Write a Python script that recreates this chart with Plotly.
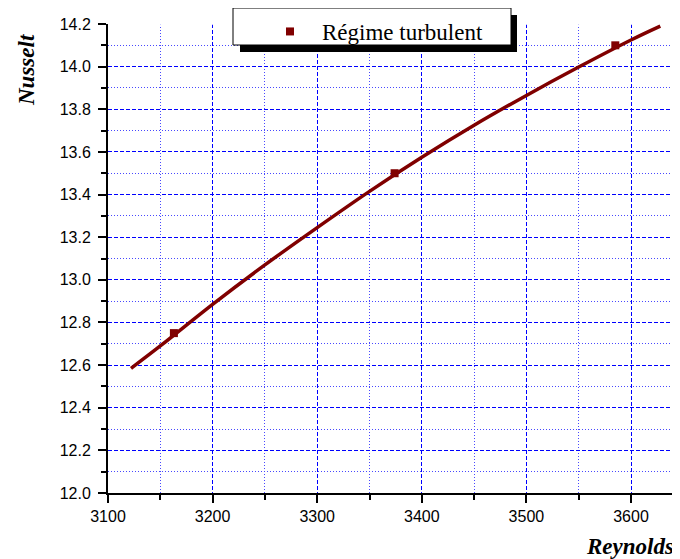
import plotly.graph_objects as go

# Data
reynolds_pts = [3163, 3374, 3585]
nusselt_pts = [12.75, 13.50, 14.10]

fit_re = [3122, 3150, 3200, 3250, 3300, 3350, 3400, 3450, 3500, 3550, 3600, 3628]
fit_nu = [12.585, 12.69, 12.885, 13.07, 13.245, 13.415, 13.575, 13.725, 13.865, 13.998, 14.125, 14.19]

x_minor_ticks = [3150, 3250, 3350, 3450, 3550, 3650]
y_minor_ticks = [12.1, 12.3, 12.5, 12.7, 12.9, 13.1, 13.3, 13.5, 13.7, 13.9, 14.1]

series_name = "Régime turbulent"
x_title = "Reynolds"
y_title = "Nusselt"

# The page body adds an 8px offset; geometry below is in page pixels
OFF = 8
W, H = 680 - OFF, 559 - OFF
L, R, T, B = 108, 680, 24, 493


def px(xp):
    return (xp - L) / (R - L)


def py(yp):
    return (B - yp) / (B - T)


RED = "#800000"
BLUE = "#0000ff"
BLUE_MINOR = "#4848ff"

fig = go.Figure()
fig.add_trace(go.Scatter(
    x=reynolds_pts, y=nusselt_pts, mode="markers", name=series_name,
    marker=dict(symbol="square", size=8, color=RED), showlegend=True,
))
fig.add_trace(go.Scatter(
    x=fit_re, y=fit_nu, mode="lines", line=dict(color=RED, width=3.5, shape="spline"),
    showlegend=False, hoverinfo="skip",
))

tickfont = dict(family="Liberation Sans, Arial, sans-serif", size=16, color="black")

fig.update_xaxes(
    range=[3100, 3100 + (R - L) / 1.046], tick0=3100, dtick=100,
    showline=True, linecolor="black", linewidth=2,
    ticks="outside", ticklen=8, tickwidth=1.5, tickcolor="black",
    tickfont=tickfont, showgrid=True, gridcolor=BLUE, gridwidth=1, griddash="4px,2px",
    zeroline=False,
    minor=dict(tickmode="array", tickvals=x_minor_ticks, ticks="outside", ticklen=5,
               tickwidth=1.5, tickcolor="black",
               showgrid=True, gridcolor=BLUE_MINOR, gridwidth=1, griddash="1px,2px"),
)
fig.update_yaxes(
    range=[12.0, 14.2], tick0=12.0, dtick=0.2, tickformat=".1f",
    showline=True, linecolor="black", linewidth=2,
    ticks="outside", ticklen=8, tickwidth=1.5, tickcolor="black",
    tickfont=tickfont, showgrid=True, gridcolor=BLUE, gridwidth=1, griddash="4px,2px",
    zeroline=False, ticklabelstandoff=4,
    minor=dict(tickmode="array", tickvals=y_minor_ticks, ticks="outside", ticklen=5,
               tickwidth=1.5, tickcolor="black",
               showgrid=True, gridcolor=BLUE_MINOR, gridwidth=1, griddash="1px,2px"),
)

title_font = dict(family="Liberation Serif, Times New Roman, serif", size=23, color="black")

shapes = [
    # hide the grid line along the top edge
    dict(type="line", xref="paper", yref="paper", x0=px(110), x1=px(640), y0=1, y1=1,
         line=dict(color="white", width=1.5), layer="above"),
    # legend shadow
    dict(type="rect", xref="paper", yref="paper", x0=px(240), x1=px(517), y0=py(52), y1=py(15),
         fillcolor="black", line=dict(width=0), layer="above"),
    # legend box
    dict(type="rect", xref="paper", yref="paper", x0=px(233), x1=px(511), y0=py(45), y1=py(8),
         fillcolor="white", line=dict(color="black", width=1), layer="above"),
]

annotations = [
    dict(text="<b><i>" + y_title + "</i></b>", xref="paper", yref="paper",
         x=px(26), y=py(70), xanchor="center", yanchor="middle", textangle=-90,
         showarrow=False, font=title_font),
    dict(text="<b><i>" + x_title + "</i></b>", xref="paper", yref="paper",
         x=px(676), y=py(546), xanchor="right", yanchor="middle",
         showarrow=False, font=title_font),
]

fig.update_layout(
    width=W, height=H,
    margin=dict(l=L - OFF, r=680 - R, t=T - OFF, b=559 - B, pad=0),
    paper_bgcolor="white", plot_bgcolor="white",
    shapes=shapes, annotations=annotations,
    legend=dict(x=px(258), y=py(10), xanchor="left", yanchor="top",
                bgcolor="rgba(0,0,0,0)", borderwidth=0, itemwidth=54,
                font=dict(family="Liberation Serif, Times New Roman, serif", size=23, color="black")),
)

fig.write_html("out.html")
